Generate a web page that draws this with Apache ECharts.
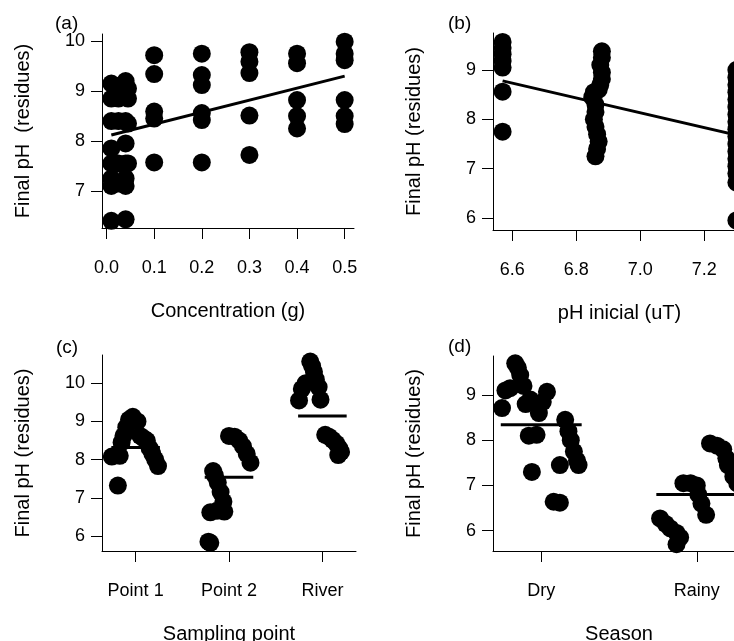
<!DOCTYPE html>
<html>
<head>
<meta charset="utf-8">
<script src="https://cdn.jsdelivr.net/npm/echarts@6/dist/echarts.min.js"></script>
<style>
html,body{margin:0;padding:0;background:#fff;}
#chart{width:734px;height:641px;}
</style>
</head>
<body>
<div id="chart"></div>
<script>
// (a) final pH vs concentration
const concentration = [0.01,0.01,0.01,0.01,0.01,0.01,0.01,0.01, 0.025,0.025,0.025,0.025,0.025,
  0.04,0.04,0.04,0.04,0.04,0.04,0.04,0.04, 0.045,0.045,0.045,0.045,
  0.1,0.1,0.1,0.1,0.1, 0.2,0.2,0.2,0.2,0.2,0.2, 0.3,0.3,0.3,0.3,0.3,
  0.4,0.4,0.4,0.4,0.4, 0.5,0.5,0.5,0.5,0.5,0.5]
const phFinalA = [9.15,8.85,8.4,7.85,7.55,7.25,7.1,6.4, 9.1,8.85,8.4,7.55,7.15,
  9.2,8.95,8.4,7.95,7.55,7.25,7.1,6.43, 9.05,8.85,8.35,7.55,
  9.72,9.34,8.59,8.45,7.57, 9.75,9.32,9.12,8.56,8.42,7.57, 9.78,9.59,9.36,8.51,7.72,
  9.75,9.56,8.82,8.5,8.25, 9.99,9.75,9.62,8.82,8.5,8.34]
const fitAx = [0.01, 0.5]
const fitAy = [8.12, 9.3]
const ticksAx = [0, 0.1, 0.2, 0.3, 0.4, 0.5]
const ticksAy = [7, 8, 9, 10]

// (b) final pH vs initial pH
const phInitial = [6.57,6.57,6.57,6.57,6.57,6.57,6.57,
  6.88,6.88,6.875,6.88,6.88,6.875,6.87,6.855,6.85,6.86,6.86,6.855,6.86,6.865,6.87,6.865,6.86,
  7.3,7.3,7.3,7.3,7.3,7.3,7.3,7.3,7.3,7.3,7.3,7.3,7.3,7.3,7.3,7.3,7.3]
const phFinalB = [9.57,9.45,9.32,9.18,9.05,8.56,7.75,
  9.38,9.25,9.1,8.95,8.82,8.7,8.6,8.55,8.45,8.3,8.15,8.0,7.85,7.7,7.55,7.4,7.25,
  9.0,8.85,8.7,8.55,8.4,8.25,8.1,7.95,7.8,7.65,7.5,7.35,7.2,7.05,6.9,6.72,5.95]
const fitBx = [6.57, 7.3]
const fitBy = [8.78, 7.68]
const ticksBx = [6.6, 6.8, 7.0, 7.2]
const ticksBy = [6, 7, 8, 9]

// (c) sampling point (jittered positions)
const sites = ['Point 1', 'Point 2', 'River']
const siteX = [0.745,0.83,0.81,0.85,0.87,0.9,0.93,0.97,1.02,1.05,1.09,1.12,1.15,1.18,1.21,1.24,
  1.78,1.8,1.8,1.87,1.95,1.94,1.91,1.88,1.85,1.83,2.0,2.06,2.11,2.15,2.19,2.23,
  2.87,2.89,2.91,2.93,2.82,2.78,2.75,2.96,2.98,3.03,3.07,3.11,3.15,3.18,3.2,3.17]
const phFinalC = [8.08,8.1,7.32,8.45,8.62,8.85,9.05,9.12,9.0,8.62,8.55,8.5,8.3,8.15,8.0,7.83,
  5.85,5.82,6.62,6.66,6.64,6.9,7.15,7.4,7.58,7.7,8.62,8.6,8.5,8.35,8.15,7.92,
  10.57,10.45,10.3,10.1,10.0,9.85,9.55,9.9,9.57,8.65,8.6,8.52,8.42,8.3,8.2,8.12]
const meansC = [8.32, 7.54, 9.14]
const ticksCy = [6, 7, 8, 9, 10]

// (d) season (jittered positions)
const seasons = ['Dry', 'Rainy']
const seasonX = [0.833,0.85,0.865,0.886,0.77,0.8,0.748,0.9,0.93,1.037,1.01,0.985,0.92,0.97,1.154,1.175,1.19,1.21,1.23,1.24,1.12,0.94,1.08,1.12,
  1.764,1.8,1.83,1.87,1.893,1.87,1.914,1.96,2.0,2.01,2.03,2.06,2.085,2.13,2.17,2.19,2.2,2.235,2.26]
const phFinalD = [9.7,9.6,9.44,9.2,9.1,9.15,8.71,8.8,8.9,9.07,8.85,8.6,8.1,8.12,8.45,8.2,8.0,7.75,7.55,7.45,7.45,7.3,6.64,6.62,
  6.27,6.15,6.05,5.95,5.85,5.7,7.05,7.05,7.0,6.8,6.6,6.35,7.93,7.88,7.8,7.6,7.45,7.2,7.05]
const meansD = [8.34, 6.8]
const ticksDy = [6, 7, 8, 9]

const FONT = "'Liberation Sans', Arial, sans-serif"
const HALF = 0.26  // half width of the group mean bars

const zip = (xs, ys) => xs.map((x, i) => [x, ys[i]])

function xAx(grid, min, max, ticks, fmt, name) {
  return {
    type: 'value', gridIndex: grid, min: min, max: max,
    axisLine: {onZero: false, lineStyle: {color: '#000', width: 1}},
    axisTick: {customValues: ticks, length: 11, lineStyle: {color: '#000', width: 1}},
    axisLabel: {customValues: ticks, formatter: fmt, margin: 31, fontSize: 18, fontFamily: FONT, color: '#000'},
    splitLine: {show: false},
    name: name, nameLocation: 'middle', nameGap: 73,
    nameTextStyle: {fontSize: 20, fontFamily: FONT, color: '#000'}
  }
}
function yAx(grid, min, max, ticks, name) {
  return {
    type: 'value', gridIndex: grid, min: min, max: max,
    axisLine: {show: true, onZero: false, lineStyle: {color: '#000', width: 1}},
    axisTick: {show: true, customValues: ticks, length: 11, lineStyle: {color: '#000', width: 1}},
    axisLabel: {customValues: ticks, margin: 17, fontSize: 18, fontFamily: FONT, color: '#000'},
    splitLine: {show: false},
    name: name, nameLocation: 'middle', nameGap: 69,
    nameTextStyle: {fontSize: 20, fontFamily: FONT, color: '#000'}
  }
}
function dots(i, data) {
  return {type: 'scatter', xAxisIndex: i, yAxisIndex: i, data: data, symbolSize: 18,
    itemStyle: {color: '#000', opacity: 1}, clip: false, silent: true}
}
function seg(i, data) {
  return {type: 'line', xAxisIndex: i, yAxisIndex: i, data: data, symbol: 'none',
    lineStyle: {color: '#000', width: 3, opacity: 1}, clip: false, silent: true, z: 3}
}

const series = [
  dots(0, zip(concentration, phFinalA)),
  seg(0, zip(fitAx, fitAy)),
  dots(1, zip(phInitial, phFinalB)),
  seg(1, zip(fitBx, fitBy)),
  dots(2, zip(siteX, phFinalC)),
  dots(3, zip(seasonX, phFinalD))
]
meansC.forEach((m, g) => series.push(seg(2, [[g + 1 - HALF, m], [g + 1 + HALF, m]])))
meansD.forEach((m, g) => series.push(seg(3, [[g + 1 - HALF, m], [g + 1 + HALF, m]])))

const label = (txt, x, y) => ({type: 'text', left: x, top: y,
  style: {text: txt, font: '19px ' + FONT, fill: '#000'}})

const myChart = echarts.init(document.getElementById('chart'))
const option = {
  animation: false,
  grid: [
    {left: 102, top: 34, width: 252, height: 194, outerBoundsMode: 'none'},
    {left: 493, top: 33, width: 253, height: 197, outerBoundsMode: 'none'},
    {left: 102, top: 355, width: 254, height: 196, outerBoundsMode: 'none'},
    {left: 493, top: 356, width: 252, height: 195, outerBoundsMode: 'none'}
  ],
  xAxis: [
    xAx(0, -0.0096, 0.5196, ticksAx, v => v.toFixed(1), 'Concentration (g)'),
    xAx(1, 6.54, 7.33, ticksBx, v => v.toFixed(1), 'pH inicial (uT)'),
    xAx(2, 0.64, 3.36, [1, 2, 3], v => sites[Math.round(v) - 1], 'Sampling point'),
    xAx(3, 0.69, 2.31, [1, 2], v => seasons[Math.round(v) - 1], 'Season')
  ],
  yAxis: [
    yAx(0, 6.256, 10.144, ticksAy, 'Final pH  (residues)'),
    yAx(1, 5.757, 9.75, ticksBy, 'Final pH (residues)'),
    yAx(2, 5.607, 10.74, ticksCy, 'Final pH (residues)'),
    yAx(3, 5.551, 9.862, ticksDy, 'Final pH (residues)')
  ],
  graphic: [
    label('(a)', 55, 14),
    label('(b)', 448, 14),
    label('(c)', 56, 338),
    label('(d)', 448, 337)
  ],
  series: series
}
myChart.setOption(option)
</script>
</body>
</html>
